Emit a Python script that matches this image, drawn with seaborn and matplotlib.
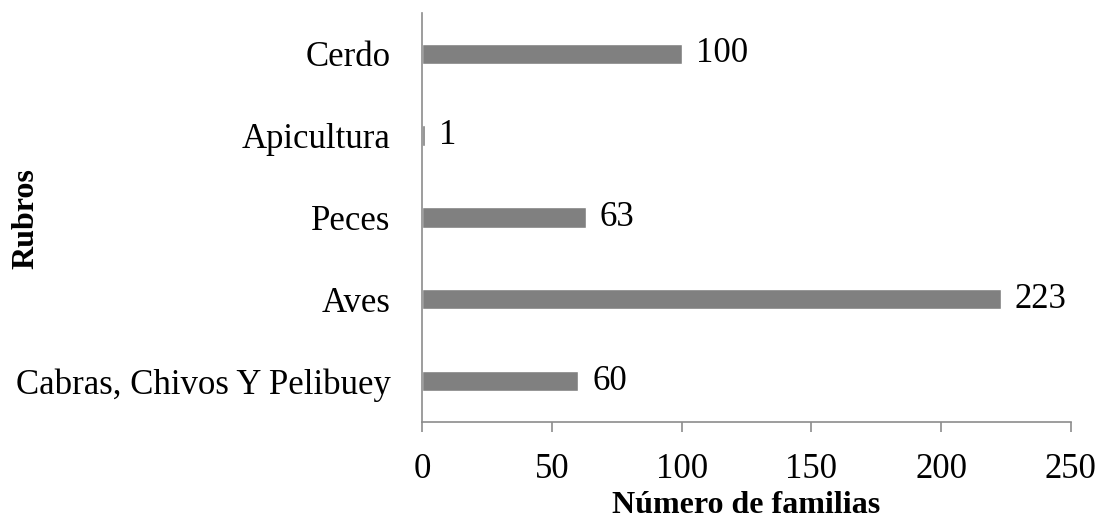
import matplotlib
matplotlib.use("Agg")
import matplotlib.pyplot as plt
import seaborn as sns
import pandas as pd

categories = ["Cerdo", "Apicultura", "Peces", "Aves", "Cabras, Chivos Y Pelibuey"]
values = [100, 1, 63, 223, 60]
xticks = [0, 50, 100, 150, 200, 250]

sns.set_theme(style="white")
plt.rcParams['font.family'] = ['Liberation Serif', 'DejaVu Serif']
plt.rcParams['text.color'] = 'black'
plt.rcParams['xtick.labelcolor'] = 'black'
plt.rcParams['ytick.labelcolor'] = 'black'
plt.rcParams['axes.labelcolor'] = 'black'

df = pd.DataFrame({"Rubros": categories, "Familias": values})

fig = plt.figure(figsize=(10.97, 5.19), dpi=100)
ax = fig.add_axes([0.385, 0.187, 0.591, 0.788])
sns.barplot(data=df, x="Familias", y="Rubros", order=categories, color="#808080",
            width=0.25, saturation=1, ax=ax)
ax.set_xlim(0, 250)
ax.set_ylim(len(categories) - 0.5, -0.5)
ax.set_xticks(xticks)
ax.set_xticklabels([str(t) for t in xticks], fontsize=25, color='black')
ax.tick_params(axis='y', labelsize=25, length=0, pad=23, labelcolor='black')
ax.tick_params(axis='x', length=7, width=1.2, color="#8c8c8c", direction='out', pad=15, bottom=True,
               labelcolor='black')
for s in ["top", "right"]:
    ax.spines[s].set_visible(False)
for s in ["left", "bottom"]:
    ax.spines[s].set_color("#8c8c8c")
    ax.spines[s].set_linewidth(1.2)
for i, v in enumerate(values):
    ax.text(v + 5.5, i, str(v), va='center', ha='left', fontsize=25, color='black')
ax.set_xlabel("Número de familias", fontsize=23, fontweight='bold', labelpad=4, color='black')
ax.set_ylabel("")
fig.text(0.024, 0.578, "Rubros", rotation=90, fontsize=23, fontweight='bold', va='center', ha='center',
         color='black')
ax.grid(False)
fig.savefig("out.png", dpi=100)
